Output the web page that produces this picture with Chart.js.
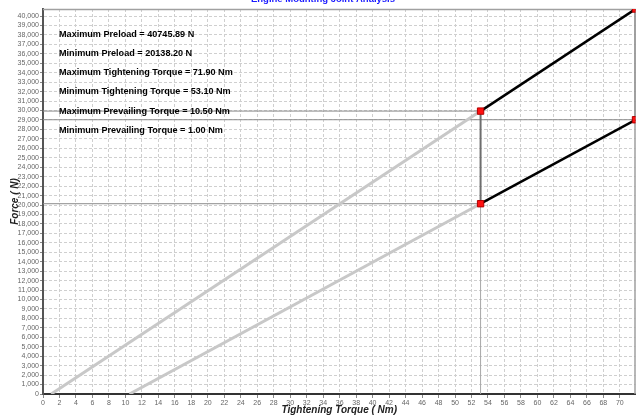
<!DOCTYPE html>
<html>
<head>
<meta charset="utf-8">
<title>Engine Mounting Joint Analysis</title>
<script src="https://cdn.jsdelivr.net/npm/chart.js@4/dist/chart.umd.min.js"></script>
<style>
  html, body { margin: 0; padding: 0; background: #fff; }
  canvas { display: block; }
</style>
</head>
<body>
<canvas id="chart-joint" width="641" height="416"></canvas>
<script>
// Values
const chartTitle = 'Engine Mounting Joint Analysis';
const xTitle = 'Tightening Torque ( Nm)';
const yTitle = 'Force ( N)';

const minPrevailing = 1.0;
const maxPrevailing = 10.5;
const minTightening = 53.1;
const maxTightening = 71.9;
const maxPreload = 40745.89;
const minPreload = 20138.20;
const upperAtMinTightening = 29942;   // upper line at 53.1 Nm
const lowerAtMaxTightening = 29025;   // lower line at 71.9 Nm

const xTicks = [0,2,4,6,8,10,12,14,16,18,20,22,24,26,28,30,32,34,36,38,40,42,44,46,48,50,52,54,56,58,60,62,64,66,68,70];
const yTicks = [0,1000,2000,3000,4000,5000,6000,7000,8000,9000,10000,11000,12000,13000,14000,15000,16000,17000,18000,19000,20000,
  21000,22000,23000,24000,25000,26000,27000,28000,29000,30000,31000,32000,33000,34000,35000,36000,37000,38000,39000,40000];

const notes = [
  'Maximum Preload = 40745.89 N',
  'Minimum Preload = 20138.20 N',
  'Maximum Tightening Torque = 71.90 Nm',
  'Minimum Tightening Torque = 53.10 Nm',
  'Maximum Prevailing Torque = 10.50 Nm',
  'Minimum Prevailing Torque = 1.00 Nm'
];

// series
const upperRun = [{ x: minPrevailing, y: 0 }, { x: minTightening, y: upperAtMinTightening }];
const lowerRun = [{ x: maxPrevailing, y: 0 }, { x: minTightening, y: minPreload }];
const upperWin = [{ x: minTightening, y: upperAtMinTightening }, { x: maxTightening, y: maxPreload }];
const lowerWin = [{ x: minTightening, y: minPreload }, { x: maxTightening, y: lowerAtMaxTightening }];
const hUpper = [{ x: 0, y: upperAtMinTightening }, { x: minTightening, y: upperAtMinTightening }];
const hLower = [{ x: 0, y: minPreload }, { x: minTightening, y: minPreload }];
const hRight = [{ x: 0, y: lowerAtMaxTightening }, { x: maxTightening, y: lowerAtMaxTightening }];
const vLeftLow = [{ x: minTightening, y: 0 }, { x: minTightening, y: minPreload }];
const vLeftWin = [{ x: minTightening, y: minPreload }, { x: minTightening, y: upperAtMinTightening }];
const vRightWin = [{ x: maxTightening, y: lowerAtMaxTightening }, { x: maxTightening, y: maxPreload }];
const corners = [
  { x: minTightening, y: upperAtMinTightening },
  { x: minTightening, y: minPreload },
  { x: maxTightening, y: maxPreload },
  { x: maxTightening, y: lowerAtMaxTightening }
];

// lower order = drawn on top
const line = (data, color, width, order) => ({ data, order, borderColor: color, borderWidth: width, showLine: true, pointRadius: 0, fill: false });

// frame, title and notes
const extras = {
  id: 'extras',
  beforeDatasetsDraw(chart) {
    const { ctx, chartArea: a } = chart;
    ctx.save();
    ctx.strokeStyle = '#a0a0a0';
    ctx.lineWidth = 1.5;
    ctx.beginPath();
    ctx.moveTo(a.left, a.top + 0.5);
    ctx.lineTo(a.right - 0.5, a.top + 0.5);
    ctx.lineTo(a.right - 0.5, a.bottom);
    ctx.stroke();
    ctx.restore();
  },
  afterDraw(chart) {
    const { ctx, chartArea: a } = chart;
    ctx.save();
    ctx.fillStyle = '#1a1aff';
    ctx.font = 'bold 9.5px "Liberation Sans", Arial, sans-serif';
    ctx.textAlign = 'center';
    ctx.textBaseline = 'middle';
    ctx.fillText(chartTitle, 323, -1);

    ctx.fillStyle = '#000';
    ctx.font = 'bold 9.1px "Liberation Sans", Arial, sans-serif';
    ctx.textAlign = 'left';
    notes.forEach((t, i) => ctx.fillText(t, a.left + 16, 34 + i * 19.3));
    ctx.restore();
  }
};

const tickFont = { size: 7, family: '"Liberation Sans", Arial' };
const titleFont = { size: 10, weight: 'bold', style: 'italic', family: '"Liberation Sans", Arial' };

new Chart(document.getElementById('chart-joint'), {
  type: 'scatter',
  data: {
    datasets: [
      line(hUpper, '#8c8c8c', 1, 5),
      line(hLower, '#8c8c8c', 1, 5),
      line(hRight, '#8c8c8c', 1, 5),
      line(vLeftLow, '#a8a8a8', 1, 5),
      line(upperRun, '#c8c8c8', 3, 4),
      line(lowerRun, '#c8c8c8', 3, 4),
      line(vLeftWin, '#6e6e6e', 2, 3),
      line(vRightWin, '#8a8a8a', 2, 3),
      line(upperWin, '#000000', 2.5, 2),
      line(lowerWin, '#000000', 2.5, 2),
      { data: corners, order: 1, showLine: false, pointStyle: 'rect', pointRadius: 4.5, backgroundColor: '#ff1010', borderColor: '#b00000', borderWidth: 1 }
    ]
  },
  options: {
    responsive: false,
    animation: false,
    layout: { padding: { top: 9, right: 4, left: 0, bottom: 0 } },
    plugins: { legend: { display: false }, tooltip: { enabled: false }, title: { display: false } },
    scales: {
      x: {
        type: 'linear', min: 0, max: maxTightening,
        afterBuildTicks: s => { s.ticks = xTicks.map(v => ({ value: v })); },
        afterFit: s => { s.height = 22; },
        ticks: { color: '#666', font: tickFont, padding: 1, maxRotation: 0, autoSkip: false },
        grid: { color: '#cfcfcf', tickLength: 4, tickColor: '#888', tickBorderDash: [] },
        border: { display: true, color: '#333', width: 2, dash: [3, 2] },
        title: { display: true, text: xTitle, color: '#222', padding: { top: 0, bottom: 0 }, font: titleFont }
      },
      y: {
        type: 'linear', min: 0, max: maxPreload,
        afterBuildTicks: s => { s.ticks = yTicks.map(v => ({ value: v })); },
        afterFit: s => { s.width = 43; },
        ticks: { color: '#666', font: tickFont, padding: 1, autoSkip: false,
          callback: v => v.toLocaleString('en-US') },
        grid: { color: '#cfcfcf', tickLength: 3, tickColor: '#888', tickBorderDash: [] },
        border: { display: true, color: '#555', width: 2, dash: [3, 2] },
        title: { display: true, text: yTitle, color: '#222', padding: { top: 9, bottom: 0 }, font: titleFont }
      }
    }
  },
  plugins: [extras]
});
</script>
</body>
</html>
